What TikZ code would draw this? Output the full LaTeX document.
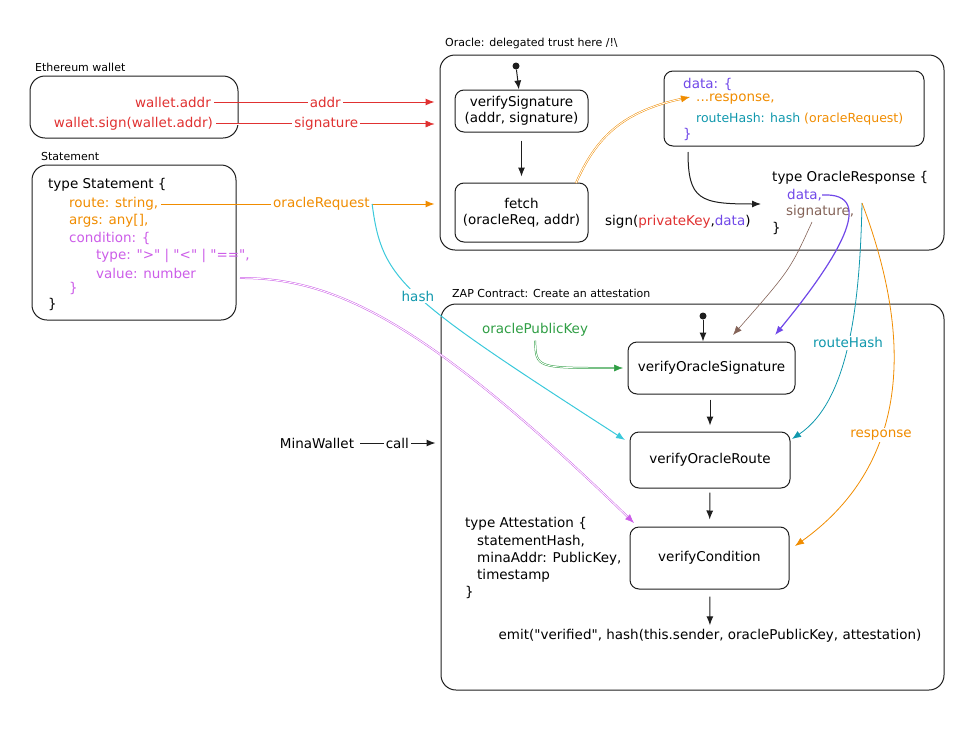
\documentclass[tikz,border=0pt]{standalone}
\usepackage{fontspec}
\setmainfont{DejaVu Sans}[Ligatures=TeXOff]
\usetikzlibrary{arrows.meta,positioning}
\definecolor{cline}{HTML}{1E1E1E}
\definecolor{cred}{HTML}{E03131}
\definecolor{corange}{HTML}{F08C00}
\definecolor{cpink}{HTML}{CC5DE8}
\definecolor{cviolet}{HTML}{7048E8}
\definecolor{ccyan}{HTML}{1098AD}
\definecolor{chash}{HTML}{3BC9DB}
\definecolor{cgreen}{HTML}{2F9E44}
\definecolor{cbrown}{HTML}{846358}
\begin{document}
\begin{tikzpicture}[x=1pt, y=-1pt,
    lbl/.style={font=\fontsize{11}{12}\selectfont, anchor=west, inner sep=0pt},
    txt/.style={font=\fontsize{13.5}{15}\selectfont, anchor=west, inner sep=0pt},
    tag/.style={font=\fontsize{13.5}{15}\selectfont, fill=white, inner sep=2pt},
    box/.style={draw=cline, line width=1pt, rounded corners=9pt, align=center,
      font=\fontsize{13.5}{16}\selectfont},
    group/.style={draw=cline, line width=1pt, rounded corners=15pt},
    arr/.style={-{Latex[length=9pt,width=7pt]}, line width=1pt, draw=cline},
    rough/.style={double, double distance=0.9pt, line width=0.5pt},
    dot/.style={circle, fill=cline, inner sep=0pt, minimum size=7pt}]
  \useasboundingbox (0,0) rectangle (980,731);

  % groups
  \node[group, minimum width=208pt, minimum height=62pt] (eth) at (134,107) {};
  \node[lbl] (ethl) at (35,67) {Ethereum wallet};
  \node[group, minimum width=204pt, minimum height=155pt] (st) at (134,242.5) {};
  \node[lbl] (stl) at (41,156) {Statement};
  \node[group, minimum width=504pt, minimum height=195pt] (oracle) at (692,152.5) {};
  \node[lbl] (oraclel) at (445,43) {Oracle: delegated trust here /!\textbackslash};
  \node[group, minimum width=503pt, minimum height=386pt] (zap) at (692.5,497) {};
  \node[lbl] (zapl) at (452,293) {ZAP Contract: Create an attestation};

  % wallet
  \node[txt, anchor=east, cred] (waddr) at (211,102) {wallet.addr};
  \node[txt, anchor=east, cred] (wsign) at (213,124) {wallet.sign(wallet.addr)};

  % statement
  \node[txt] (s0) at (48,185) {type Statement \{};
  \node[txt, corange] (s1) at (69,204) {route: string,};
  \node[txt, corange] (s2) at (69,221) {args: any[],};
  \node[txt, cpink] (s3) at (69,238) {condition: \{};
  \node[txt, cpink] (s4) at (96,256) {type: ">" | "<" | "==",};
  \node[txt, cpink] (s5) at (96,273) {value: number};
  \node[txt, cpink] (s6) at (69,288) {\}};
  \node[txt] (s7) at (48,304) {\}};

  % oracle
  \node[dot] (d1) at (516,66) {};
  \node[box, minimum width=133pt, minimum height=42pt] (vsig) at (521.5,111) {verifySignature\\(addr, signature)};
  \node[box, minimum width=133pt, minimum height=59pt] (fetch) at (521.5,212.5) {fetch\\(oracleReq, addr)};
  \node[box, minimum width=260pt, minimum height=75pt] (data) at (794,108.5) {};
  \node[txt, cviolet] (dt0) at (683,84) {data: \{};
  \node[txt, corange] (dt1) at (696,99) {...response,};
  \node[txt, font=\fontsize{12.5}{14}\selectfont] (dt2) at (696,119) {\textcolor{ccyan}{routeHash: hash} \textcolor{corange}{(oracleRequest)}};
  \node[txt, cviolet] (dt3) at (683,134) {\}};
  \node[txt] (sign) at (605,222) {sign(\textcolor{cred}{privateKey},\textcolor{cviolet}{data})};
  \node[txt] (r0) at (772,178) {type OracleResponse \{};
  \node[txt, cviolet] (r1) at (787,195) {data,};
  \node[txt, cbrown] (r2) at (786,212) {signature,};
  \node[txt] (r3) at (772,228) {\}};

  % zap contract
  \node[dot] (d2) at (703,316) {};
  \node[box, minimum width=167pt, minimum height=52pt] (vos) at (711.5,368) {verifyOracleSignature};
  \node[box, minimum width=160pt, minimum height=56pt] (vor) at (710,460) {verifyOracleRoute};
  \node[box, minimum width=159pt, minimum height=62pt] (vc) at (709.5,558) {verifyCondition};
  \node[txt, anchor=center] (emit) at (710,636) {emit("verified", hash(this.sender, oraclePublicKey, attestation)};
  \node[txt] (a0) at (465,524) {type Attestation \{};
  \node[txt] (a1) at (477,541) {statementHash,};
  \node[txt] (a2) at (477,559) {minaAddr: PublicKey,};
  \node[txt] (a3) at (477,576) {timestamp};
  \node[txt] (a4) at (465,592) {\}};
  \node[txt, anchor=center, cgreen] (opk) at (535,330) {oraclePublicKey};
  \node[txt, anchor=center] (mina) at (317,443) {MinaWallet};

  % free ends
  \coordinate (fan) at (862,203);
  \coordinate (p1) at (240,278);
  \coordinate (c1) at (634,523);
  \coordinate (h1) at (625,440);
  \coordinate (f1) at (576,183);
  \coordinate (f2) at (690,97);
  \coordinate (g1) at (688,152);
  \coordinate (g2) at (761,204);
  \coordinate (b1) at (812,222);
  \coordinate (b2) at (733,335);
  \coordinate (v2) at (775,335);
  \coordinate (rh2) at (792,439);
  \coordinate (rp2) at (795,546);
  \coordinate (k1) at (623,368);

  % flow
  \draw[arr] (d1) -- (vsig);
  \draw[arr, shorten <=8pt, shorten >=6pt] (vsig) -- (fetch);
  \draw[arr] (d2) -- (d2 |- vos.north);
  \draw[arr, shorten <=5pt, shorten >=6pt] (vos.south -| vor) -- (vor);
  \draw[arr, shorten <=4pt, shorten >=7pt] (vor) -- (vc);
  \draw[arr, shorten <=7pt, shorten >=4pt] (vc) -- (emit);
  \draw[arr] (g1) .. controls (688,200) and (700,204) .. (g2);

  % inputs
  \draw[arr, cred, shorten <=3pt, shorten >=5pt] (waddr) -- (waddr -| oracle.west)
    node[tag, midway, text=cred] (laddr) {addr};
  \draw[arr, cred, rough, shorten <=3pt, shorten >=5pt] (wsign) -- (wsign -| oracle.west)
    node[tag, midway, text=cred] (lsig) {signature};
  \draw[arr, corange, shorten <=3pt, shorten >=5pt] (s1) -- (s1 -| oracle.west)
    node[tag, pos=0.58, text=corange] (lreq) {oracleRequest};
  \draw[arr, chash] (lreq.east) .. controls (382,280) and (400,295) .. (h1)
    node[tag, pos=0.5, text=ccyan] (lhash) {hash};
  \draw[arr, cpink, rough] (p1) .. controls (330,278) and (420,315) .. (c1);
  \draw[arr, corange, rough] (f1) .. controls (595,140) and (620,112) .. (f2);
  \draw[arr, cgreen, rough, shorten <=4pt] (opk.south) .. controls (536,368) .. (k1);
  \draw[arr, shorten <=6pt, shorten >=5pt] (mina) -- (mina -| zap.west)
    node[tag, midway] (lcall) {call};

  % oracle response
  \draw[arr, cbrown, line width=0.6pt] (b1) .. controls (790,270) .. (b2);
  \draw[arr, cviolet, line width=1.2pt] (r1.east) .. controls (880,192) and (835,262) .. (v2);
  \draw[arr, ccyan, line width=0.8pt] (fan) .. controls (860,300) and (850,400) .. (rh2)
    node[tag, pos=0.5, text=ccyan] (lrh) {routeHash};
  \draw[arr, corange, line width=0.8pt] (fan) .. controls (910,330) and (915,460) .. (rp2)
    node[tag, pos=0.63, text=corange] (lresp) {response};
\end{tikzpicture}
\end{document}
